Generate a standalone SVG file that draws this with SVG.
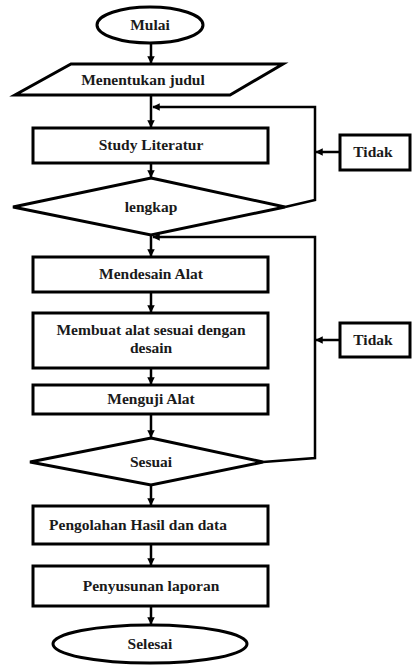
<svg xmlns="http://www.w3.org/2000/svg" width="412" height="665" viewBox="0 0 412 665">
  <style>
    .shape { fill: #fff; stroke: #000; stroke-width: 3; }
    .lbl { font-family: 'Liberation Serif', 'Times New Roman', serif; font-weight: 700; font-size: 15.5px; fill: #1a1a1a; text-anchor: middle; }
    .conn { fill: none; stroke: #000; stroke-width: 2.5; }
  </style>
  <defs>
    <marker id="arr" viewBox="0 0 10 10" refX="9" refY="5" markerWidth="3" markerHeight="3" orient="auto" markerUnits="strokeWidth">
      <path d="M0,0 L10,5 L0,10 z" fill="#000"/>
    </marker>
  </defs>
  <rect width="412" height="665" fill="#fff"/>

  <g id="connectors">
    <line class="conn" x1="151" y1="43" x2="151" y2="63" marker-end="url(#arr)"/>
    <line class="conn" x1="151" y1="95" x2="151" y2="127" marker-end="url(#arr)"/>
    <polyline class="conn" points="285,207 315,200 315,107 153,107" marker-end="url(#arr)"/>
    <line class="conn" x1="340" y1="152" x2="316" y2="152" marker-end="url(#arr)"/>
    <line class="conn" x1="151" y1="163" x2="151" y2="177" marker-end="url(#arr)"/>
    <line class="conn" x1="151" y1="235" x2="151" y2="256" marker-end="url(#arr)"/>
    <polyline class="conn" points="263,462 315,458 315,237 153,237" marker-end="url(#arr)"/>
    <line class="conn" x1="340" y1="340" x2="316" y2="340" marker-end="url(#arr)"/>
    <line class="conn" x1="151" y1="292" x2="151" y2="312" marker-end="url(#arr)"/>
    <line class="conn" x1="151" y1="368" x2="151" y2="384" marker-end="url(#arr)"/>
    <line class="conn" x1="151" y1="414" x2="151" y2="437" marker-end="url(#arr)"/>
    <line class="conn" x1="151" y1="485" x2="151" y2="505" marker-end="url(#arr)"/>
    <line class="conn" x1="151" y1="544" x2="151" y2="565" marker-end="url(#arr)"/>
    <line class="conn" x1="151" y1="606" x2="151" y2="624" marker-end="url(#arr)"/>
  </g>

  <g id="mulai">
    <ellipse class="shape" cx="150" cy="25" rx="53" ry="18"/>
    <text class="lbl" x="150" y="30">Mulai</text>
  </g>
  <g id="menentukan-judul">
    <polygon class="shape" points="71,64 283,64 230,95 15,95"/>
    <text class="lbl" x="143" y="85">Menentukan judul</text>
  </g>
  <g id="study-literatur">
    <rect class="shape" x="33" y="128" width="235" height="35"/>
    <text class="lbl" x="151" y="150">Study Literatur</text>
  </g>
  <g id="lengkap">
    <polygon class="shape" points="151,178 285,207 151,235 13,207"/>
    <text class="lbl" x="151" y="212">lengkap</text>
  </g>
  <g id="tidak-1">
    <rect class="shape" x="340" y="135" width="70" height="35"/>
    <text class="lbl" x="373" y="157">Tidak</text>
  </g>
  <g id="mendesain-alat">
    <rect class="shape" x="33" y="257" width="235" height="35"/>
    <text class="lbl" x="151" y="279">Mendesain Alat</text>
  </g>
  <g id="membuat-alat">
    <rect class="shape" x="33" y="313" width="235" height="55"/>
    <text class="lbl" x="151" y="335">Membuat alat sesuai dengan</text>
    <text class="lbl" x="151" y="353">desain</text>
  </g>
  <g id="tidak-2">
    <rect class="shape" x="340" y="323" width="70" height="34"/>
    <text class="lbl" x="373" y="345">Tidak</text>
  </g>
  <g id="menguji-alat">
    <rect class="shape" x="33" y="385" width="235" height="29"/>
    <text class="lbl" x="151" y="404">Menguji Alat</text>
  </g>
  <g id="sesuai">
    <polygon class="shape" points="151,438 263,462 151,485 30,462"/>
    <text class="lbl" x="151" y="467">Sesuai</text>
  </g>
  <g id="pengolahan">
    <rect class="shape" x="33" y="506" width="235" height="38"/>
    <text class="lbl" x="138" y="530">Pengolahan Hasil dan data</text>
  </g>
  <g id="penyusunan">
    <rect class="shape" x="33" y="566" width="235" height="40"/>
    <text class="lbl" x="151" y="591">Penyusunan laporan</text>
  </g>
  <g id="selesai">
    <ellipse class="shape" cx="150" cy="644" rx="97" ry="19"/>
    <text class="lbl" x="150" y="649">Selesai</text>
  </g>
</svg>
